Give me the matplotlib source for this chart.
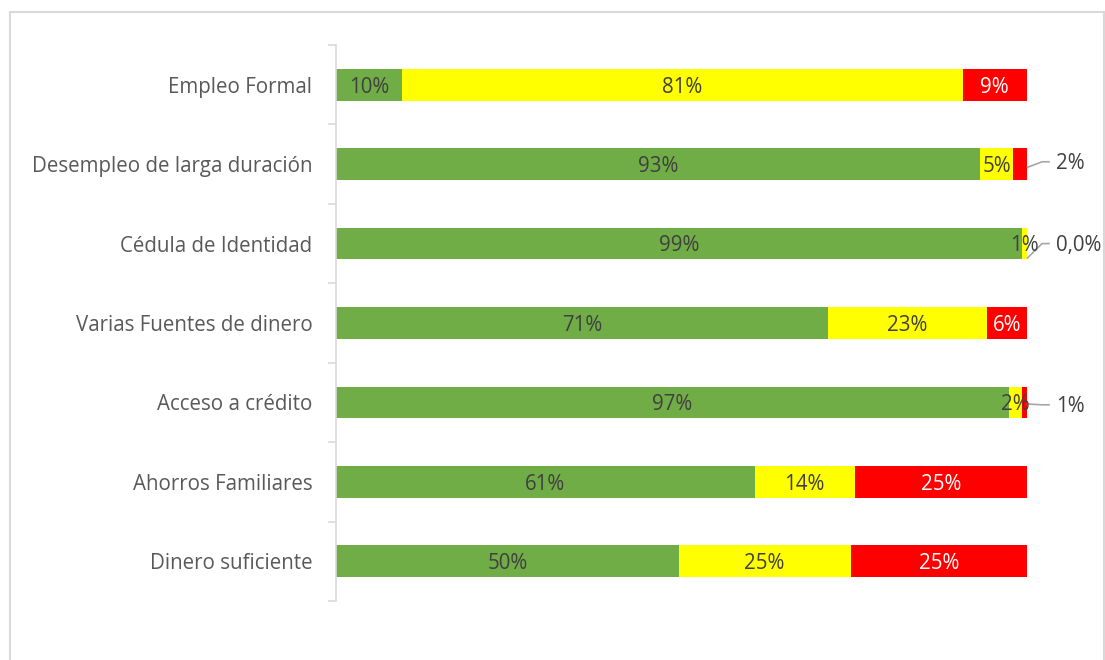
import matplotlib.pyplot as plt

categories = ['Empleo Formal', 'Desempleo de larga duración', 'Cédula de Identidad',
              'Varias Fuentes de dinero', 'Acceso a crédito', 'Ahorros Familiares',
              'Dinero suficiente']
verde = [9.6, 93.2, 99.3, 71.2, 97.4, 60.6, 49.6]
amarillo = [81.1, 4.8, 0.7, 23.0, 1.9, 14.5, 24.9]
rojo = [9.3, 2.0, 0.0, 5.8, 0.7, 24.9, 25.5]
lab_verde = ['10%', '93%', '99%', '71%', '97%', '61%', '50%']
lab_amarillo = ['81%', '5%', '1%', '23%', '2%', '14%', '25%']
lab_rojo = ['9%', '2%', '0,0%', '6%', '1%', '25%', '25%']

plt.rcParams['font.family'] = ['Open Sans', 'DejaVu Sans']

fig = plt.figure(figsize=(11.05, 6.6), dpi=100)
ax = fig.add_axes([0.304, 0.0894, 0.6253, 0.8424])

y = list(range(len(categories)))
h = 0.4
txt = '#404040'
fs = 14.8
ax.barh(y, verde, height=h, color='#70AD47')
ax.barh(y, amarillo, left=verde, height=h, color='#FFFF00')
left3 = [v + a for v, a in zip(verde, amarillo)]
ax.barh(y, rojo, left=left3, height=h, color='#FF0000')

for i in y:
    ax.text(verde[i] / 2, i + 0.03, lab_verde[i], ha='center', va='center', fontsize=fs, color=txt)
    ax.text(verde[i] + amarillo[i] / 2, i + 0.03, lab_amarillo[i], ha='center', va='center',
            fontsize=fs, color=txt)
    if rojo[i] >= 5:
        ax.text(left3[i] + rojo[i] / 2, i + 0.03, lab_rojo[i], ha='center', va='center',
                fontsize=fs, color='white')

# etiquetas externas con linea guia
fuera = {1: (0.04, -0.03), 2: (0.18, 0.0), 4: (0.02, 0.03)}
for i, (dy0, dy1) in fuera.items():
    x0 = left3[i] + rojo[i]
    ax.plot([x0 + 0.1, x0 + 2.2, x0 + 3.2], [i + dy0, i + dy1, i + dy1],
            color='#A6A6A6', lw=1.2, clip_on=False)
    ax.text(x0 + 4.2, i + dy1 + 0.02, lab_rojo[i], ha='left', va='center',
            fontsize=fs, color=txt, clip_on=False)

ax.set_xlim(0, 100)
ax.set_ylim(len(categories) - 0.5, -0.5)
ax.set_yticks(y)
ax.set_yticklabels(categories, fontsize=fs, color='#595959')
ax.set_yticks([v - 0.5 for v in range(len(categories) + 1)], minor=True)
ax.tick_params(axis='y', which='major', length=0, pad=17)
ax.tick_params(axis='y', which='minor', length=6, color='#D9D9D9', width=1.2)
ax.set_xticks([])
for s in ['top', 'right', 'bottom']:
    ax.spines[s].set_visible(False)
ax.spines['left'].set_color('#D9D9D9')
ax.spines['left'].set_linewidth(1.2)

# borde del area del grafico
fig.add_artist(plt.Rectangle((10 / 1105, -0.1), 1094 / 1105, (648 / 660) + 0.1,
                             transform=fig.transFigure, fill=False,
                             edgecolor='#D9D9D9', lw=1.5))

fig.savefig('out.png', dpi=100)
